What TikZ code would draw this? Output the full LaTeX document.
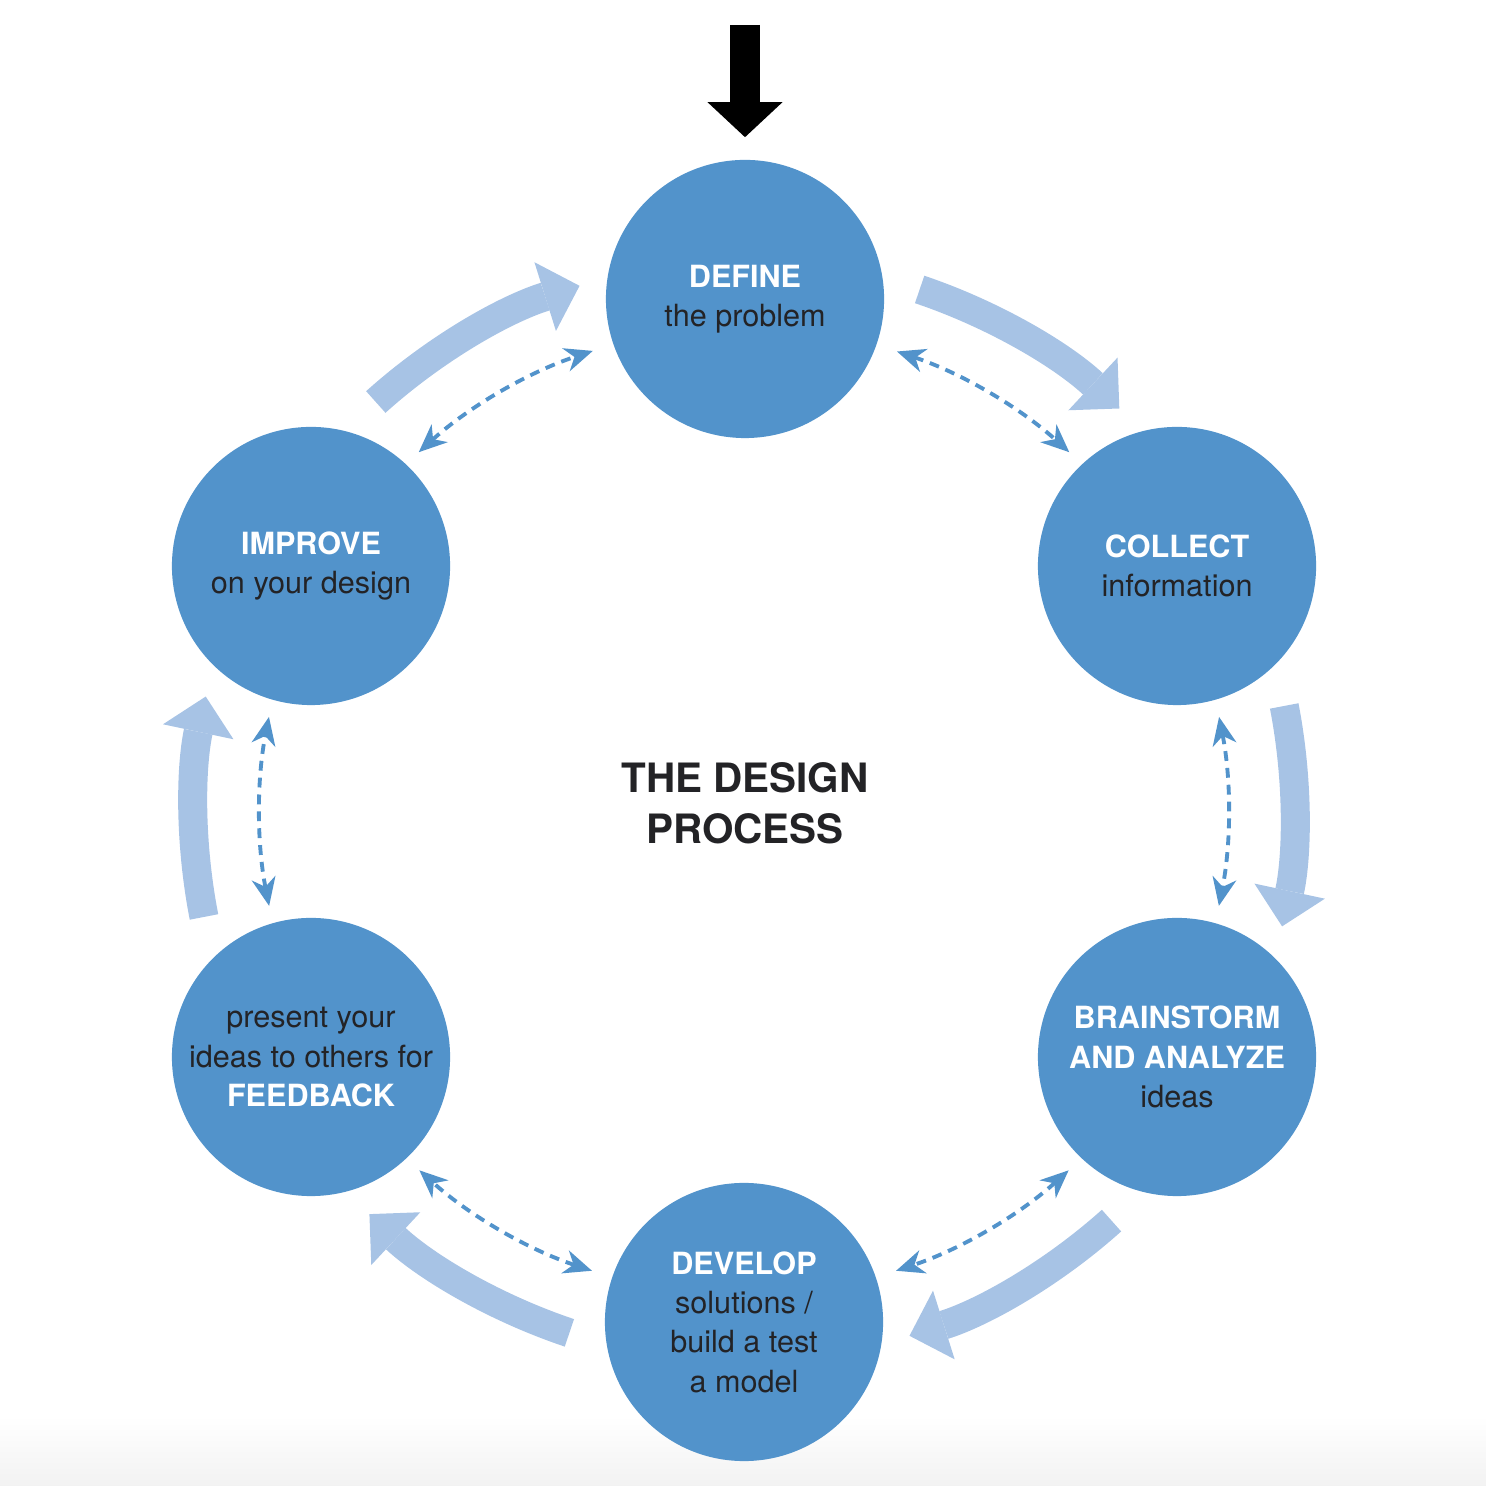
\documentclass[tikz,border=0pt]{standalone}
\usepackage{fontspec}
\setmainfont{TeX Gyre Heros}
\usetikzlibrary{arrows.meta,calc}
\definecolor{stageblue}{RGB}{82,147,203}
\definecolor{flowblue}{RGB}{167,195,229}
\definecolor{textdark}{RGB}{35,35,38}
\newcommand{\caps}[1]{\textbf{\textcolor{white}{#1}}}
\tikzset{
  stage/.style={circle, fill=stageblue, minimum size=2.78cm, inner sep=0pt,
    align=center, text=textdark, font=\fontsize{8.7}{11.2}\selectfont},
  flow/.style={flowblue, line width=0.29cm,
    -{Triangle[width=0.72cm,length=0.36cm,line width=0pt]}},
  link/.style={stageblue, line width=1.1pt, dash pattern=on 2.8pt off 2pt,
    {Stealth[length=8pt,width=6.8pt,inset=2.5pt]}-{Stealth[length=8pt,width=6.8pt,inset=2.5pt]}},
  entryarrow/.style={black, line width=0.30cm, shorten >=0.22cm,
    -{Triangle[width=0.75cm,length=0.35cm,line width=0pt]}}
}
\begin{document}
\begin{tikzpicture}[x=0.01cm,y=0.01cm]
  \useasboundingbox (0,0) rectangle (1486,1486);
  % soft grey fade at the bottom edge
  \shade[top color=white, bottom color=black!5] (0,0) rectangle (1486,70);
  \coordinate (hub) at (744,675);
  \coordinate (entry) at (745,1461);

  % stages
  \node[stage] (DEFINE) at (745,1187) {\caps{DEFINE}\\the problem};
  \node[stage] (COLLECT) at (1177,920) {\caps{COLLECT}\\information};
  \node[stage] (BRAINSTORM) at (1177,429) {\caps{BRAINSTORM}\\\caps{AND ANALYZE}\\ideas};
  \node[stage] (DEVELOP) at (744,164) {\caps{DEVELOP}\\solutions /\\build a test\\a model};
  \node[stage] (FEEDBACK) at (311,429) {present your\\ideas to others for\\\caps{FEEDBACK}};
  \node[stage] (IMPROVE) at (311,920) {\caps{IMPROVE}\\on your design};

  \node[font=\fontsize{11.5}{14.5}\selectfont\bfseries, text=textdark, align=center]
    (title) at (745,683) {THE DESIGN\\PROCESS};

  % way in
  \draw[entryarrow] (entry) -- (DEFINE);

  % outer flow and inner feedback between neighbouring stages
  \foreach \src/\dst in {DEFINE/COLLECT, COLLECT/BRAINSTORM, BRAINSTORM/DEVELOP,
                         DEVELOP/FEEDBACK, FEEDBACK/IMPROVE, IMPROVE/DEFINE}{
    \draw[flow] let \p1=($(\src)-(hub)$), \p2=($(\dst)-(hub)$),
        \n1={atan2(\y1,\x1)}, \n2={atan2(\y2,\x2)},
        \n3={\n1-18.5}, \n4={\n2+17.5-360*(\n2>\n1)} in
      ($(hub)+(\n3:5.5cm)$) arc[start angle=\n3, end angle=\n4, radius=5.5cm];
    \draw[link] let \p1=($(\src)-(hub)$), \p2=($(\dst)-(hub)$),
        \n1={atan2(\y1,\x1)}, \n2={atan2(\y2,\x2)},
        \n3={\n1-18.3}, \n4={\n2+18.3-360*(\n2>\n1)} in
      ($(hub)+(\n3:4.84cm)$) arc[start angle=\n3, end angle=\n4, radius=4.84cm];
  }
\end{tikzpicture}
\end{document}
